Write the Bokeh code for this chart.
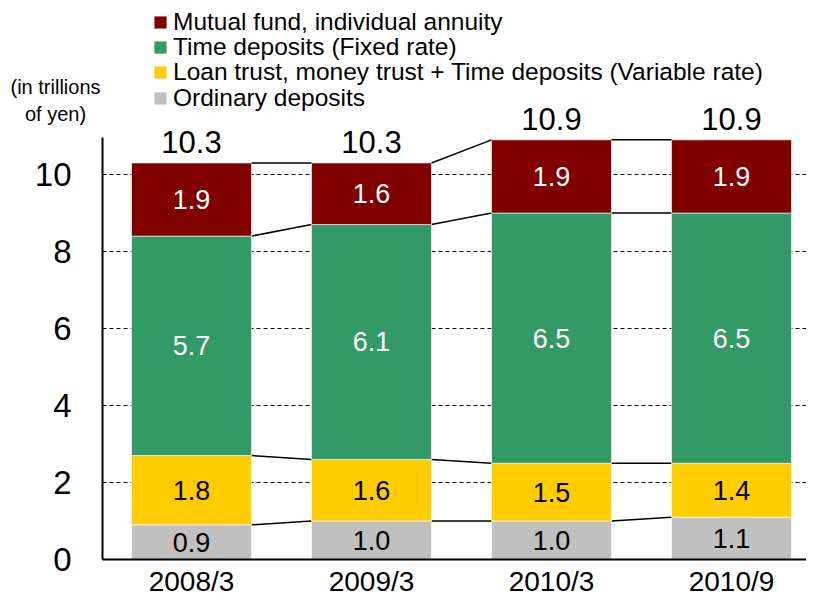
from bokeh.plotting import figure
from bokeh.models import (FixedTicker, Legend, LegendItem, Label, ColumnDataSource)
from bokeh.core.properties import value
from bokeh.embed import file_html
from bokeh.resources import INLINE

categories = ["2008/3", "2009/3", "2010/3", "2010/9"]
ordinary = [0.9, 1.0, 1.0, 1.1]
loan_trust = [1.8, 1.6, 1.5, 1.4]
time_fixed = [5.7, 6.1, 6.5, 6.5]
mutual = [1.9, 1.6, 1.9, 1.9]
totals = [10.3, 10.3, 10.9, 10.9]

series_names = [
    "Ordinary deposits",
    "Loan trust, money trust + Time deposits (Variable rate)",
    "Time deposits (Fixed rate)",
    "Mutual fund, individual annuity",
]
series = [ordinary, loan_trust, time_fixed, mutual]
colors = ["#C0C0C0", "#FFCC00", "#339966", "#800000"]
text_colors = ["black", "black", "white", "white"]
y_ticks = [0, 2, 4, 6, 8, 10]

FONT = "Liberation Sans"
BAR_W = 2 / 3
X_LEFT = -0.4944      # where the y axis sits (data units)
X_RIGHT = 3.4167
Y_TOP = 10.95
H = 598

xs = list(range(len(categories)))

p = figure(width=806, height=H, output_backend="svg", toolbar_location=None,
           x_range=(-1.0611, X_RIGHT), y_range=(-1.013, 14.52),
           min_border_left=0, min_border_right=0, min_border_top=0,
           min_border_bottom=0)
p.title = None
p.outline_line_color = None
p.background_fill_color = "white"
p.border_fill_color = "white"

# gridlines (dashed, from the y axis to the right edge)
p.xgrid.visible = False
p.ygrid.visible = False
grid_y = y_ticks[1:]
p.segment(x0=[X_LEFT] * len(grid_y), y0=grid_y, x1=[X_RIGHT] * len(grid_y),
          y1=grid_y, line_color="black", line_dash="4 3", line_width=1)

# axes, fixed inside the frame
p.yaxis.fixed_location = X_LEFT
p.yaxis.ticker = FixedTicker(ticks=y_ticks)
p.yaxis.bounds = (0, Y_TOP)
p.yaxis.axis_line_width = 2
p.yaxis.axis_line_color = "black"
p.yaxis.major_tick_in = 0
p.yaxis.major_tick_out = 0
p.yaxis.minor_tick_line_color = None
p.yaxis.major_label_text_font = FONT
p.yaxis.major_label_text_font_size = "33px"
p.yaxis.major_label_text_color = "black"
p.yaxis.major_label_standoff = 31

p.xaxis.fixed_location = 0
p.xaxis.ticker = FixedTicker(ticks=xs)
p.xaxis.bounds = (X_LEFT, X_RIGHT)
p.xaxis.major_label_overrides = {i: c for i, c in enumerate(categories)}
p.xaxis.axis_line_width = 2
p.xaxis.axis_line_color = "black"
p.xaxis.major_tick_in = 0
p.xaxis.major_tick_out = 0
p.xaxis.minor_tick_line_color = None
p.xaxis.major_label_text_font = FONT
p.xaxis.major_label_text_font_size = "28px"
p.xaxis.major_label_text_color = "black"
p.xaxis.major_label_standoff = 6

# stacked bars
bottoms = [0.0] * len(xs)
renderers = []
for name, vals, col, tcol in zip(series_names, series, colors, text_colors):
    tops = [b + v for b, v in zip(bottoms, vals)]
    src = ColumnDataSource(dict(x=xs, bottom=bottoms, top=tops,
                                mid=[(b + t) / 2 for b, t in zip(bottoms, tops)],
                                label=[f"{v:.1f}" for v in vals]))
    r = p.vbar(x="x", bottom="bottom", top="top", width=BAR_W, source=src,
               fill_color=col, line_color="white", line_width=1, line_alpha=0.6)
    renderers.append((name, r))
    p.text(x="x", y="mid", text="label", source=src, text_color=tcol,
           text_font=value(FONT), text_font_size="27px",
           text_align="center", text_baseline="middle")
    # connector lines between bars at top of this segment
    p.segment(x0=[x + BAR_W / 2 for x in xs[:-1]], y0=tops[:-1],
              x1=[x - BAR_W / 2 for x in xs[1:]], y1=tops[1:],
              line_color="black", line_width=1.5)
    bottoms = tops

# totals
tsrc = ColumnDataSource(dict(x=xs, y=[t + 0.55 for t in totals],
                             label=[f"{t:.1f}" for t in totals]))
p.text(x="x", y="y", text="label", source=tsrc, text_color="black",
       text_font=value(FONT), text_font_size="31px",
       text_align="center", text_baseline="middle")

# legend: one row per series (top item first), rows 25.5 px apart
for i, (n, r) in enumerate(reversed(renderers)):
    row_center = 21.5 + 25.5 * i
    lg = Legend(items=[LegendItem(label=n, renderers=[r])],
                location=(152, round(H - row_center - 14)),
                orientation="vertical",
                label_text_font=FONT, label_text_font_size="24.5px",
                label_text_color="black", glyph_width=16, glyph_height=16,
                label_height=16, label_standoff=5, spacing=0, padding=0,
                margin=0, border_line_color=None, background_fill_alpha=0)
    p.add_layout(lg)

# unit label
p.add_layout(Label(x=55, y=498, x_units="screen", y_units="screen",
                   text="(in trillions\nof yen)", text_font=FONT,
                   text_font_size="20px", text_align="center",
                   text_baseline="middle", text_color="black"))

open("out.html", "w").write(file_html(p, INLINE))
